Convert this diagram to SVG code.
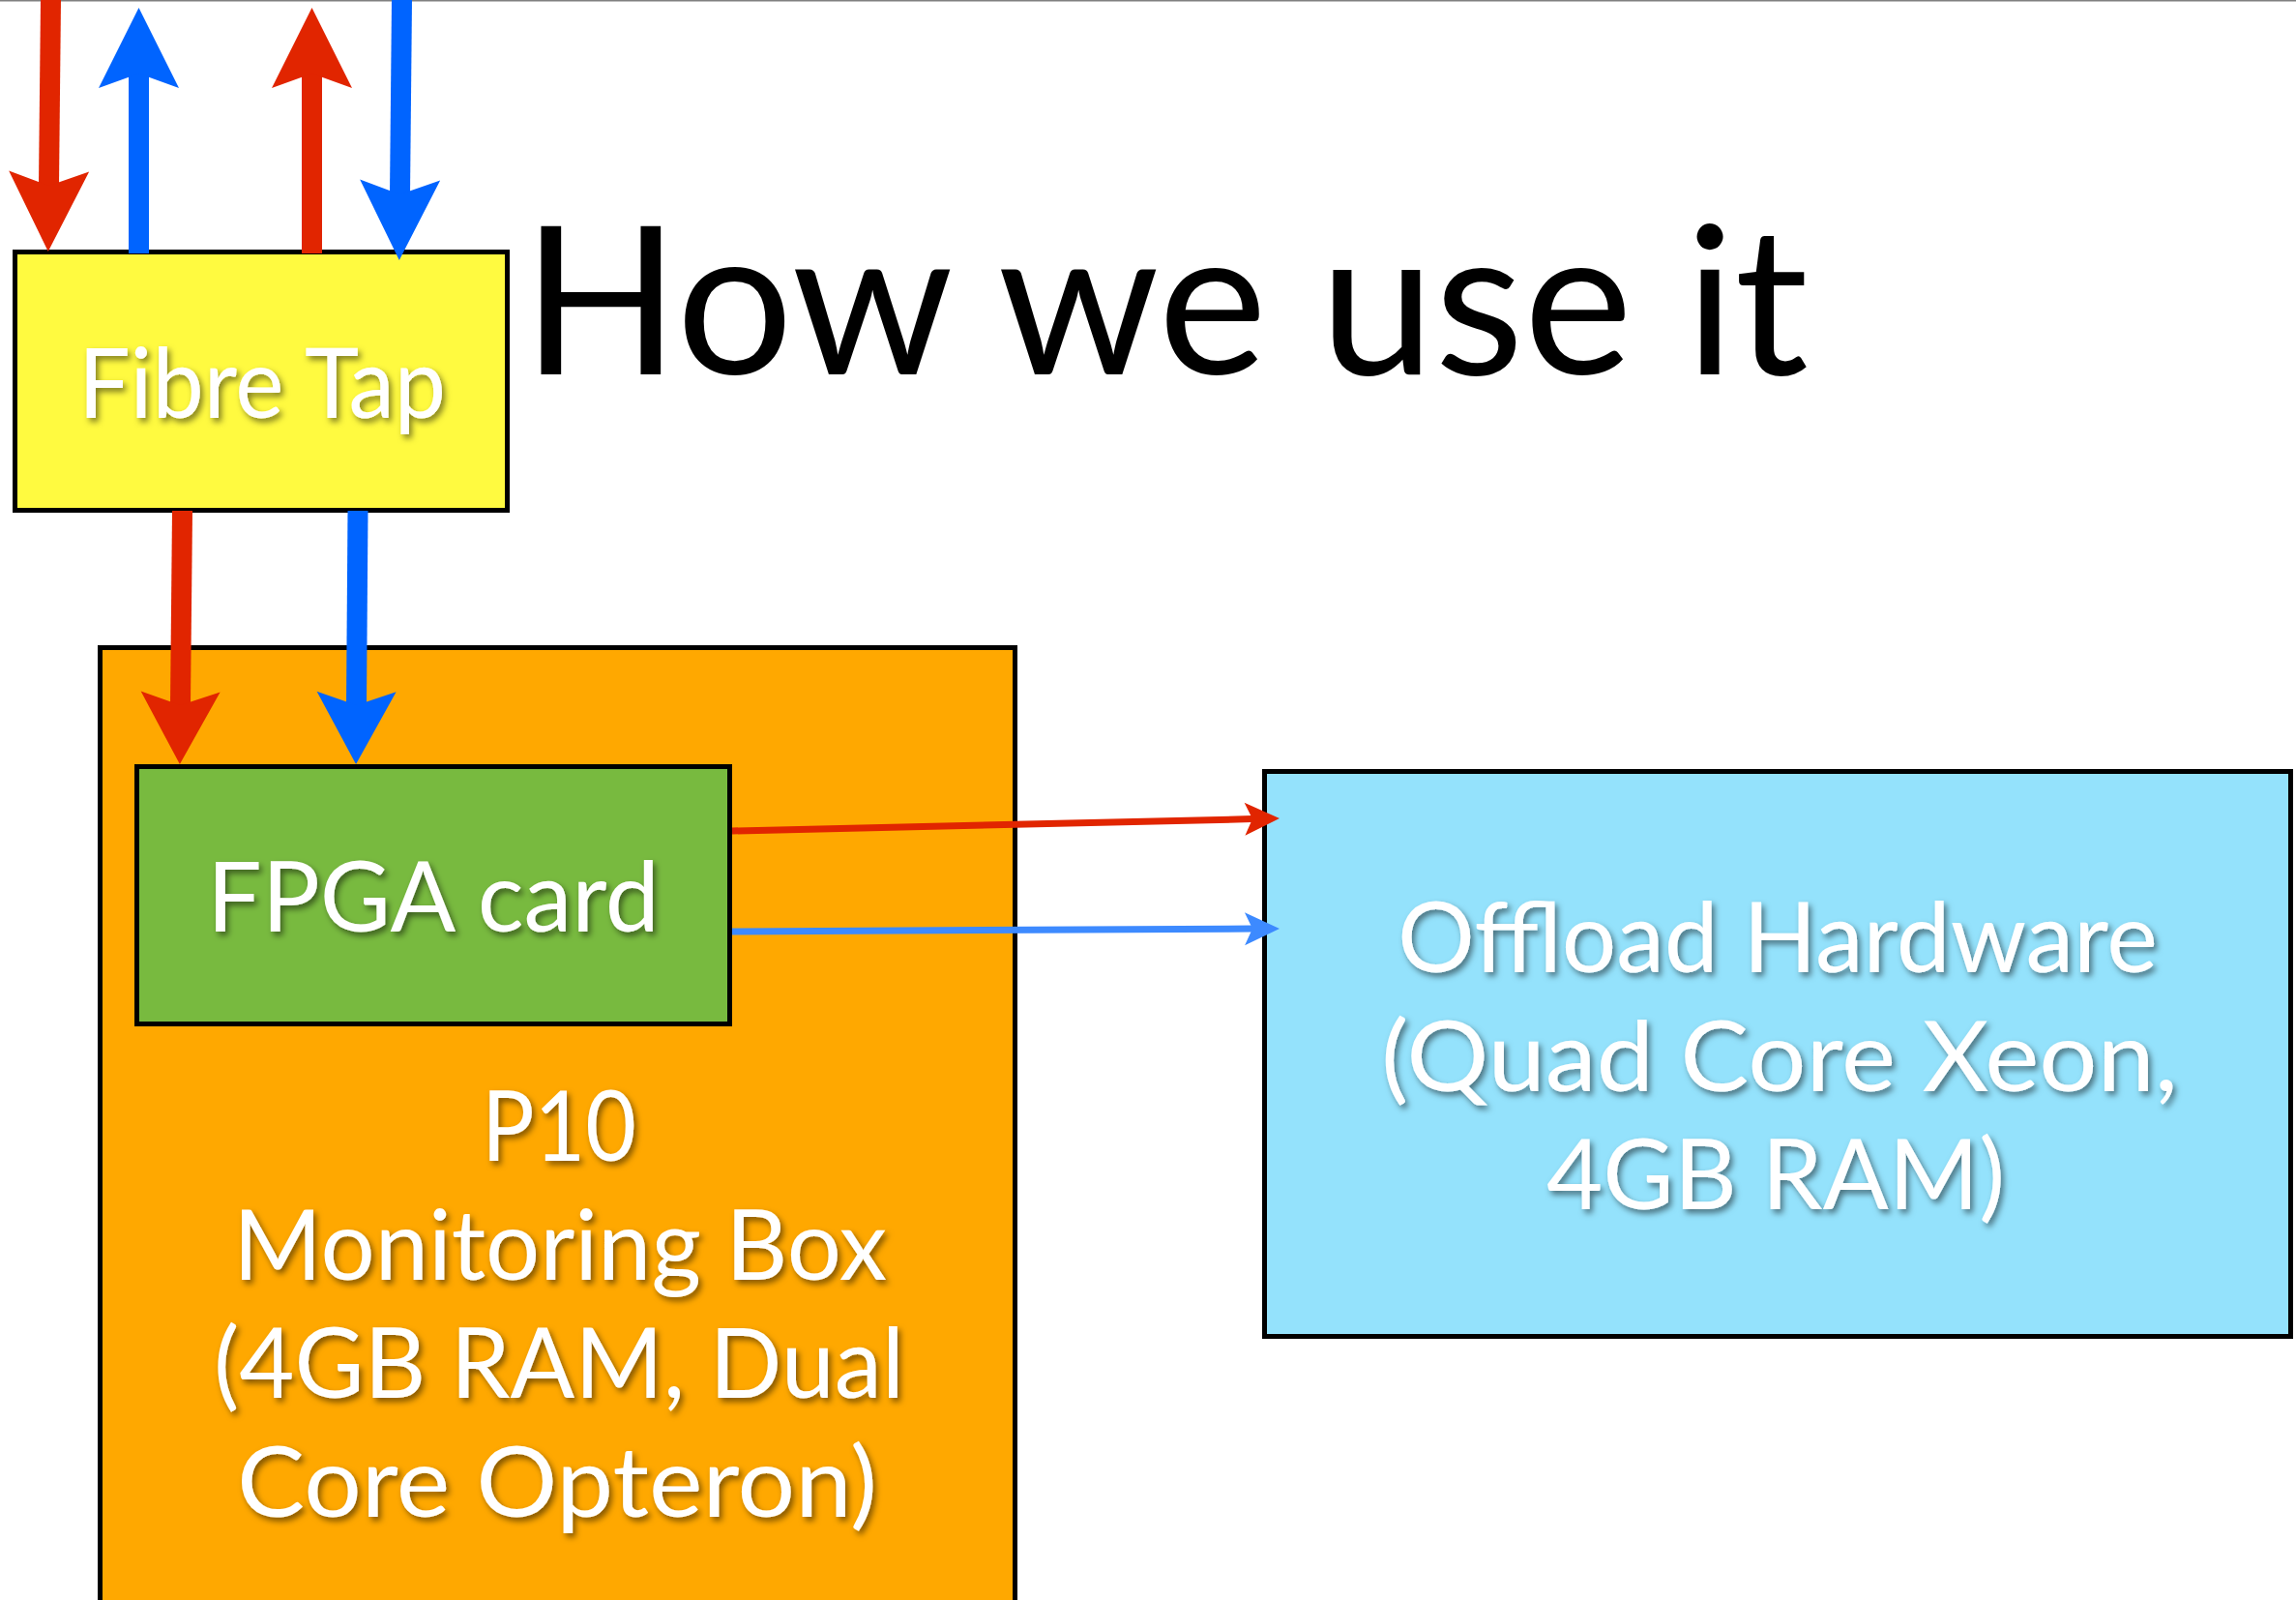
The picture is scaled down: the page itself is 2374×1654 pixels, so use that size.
<svg xmlns="http://www.w3.org/2000/svg" width="2374" height="1654" viewBox="0 0 2374 1654">
  <style>
    .box { stroke: #000; stroke-width: 5; }
    .label { font-family: Lato, "Open Sans", "Liberation Sans", sans-serif; font-size: 100px; fill: #fff; text-anchor: middle; filter: url(#shadow); }
    .title { font-family: Lato, "Open Sans", "Liberation Sans", sans-serif; font-size: 213px; fill: #000; }
    .red { stroke: #e12500; fill: none; }
    .blue { stroke: #0064ff; fill: none; }
    .lblue { stroke: #3d8aff; fill: none; }
    .thick { stroke-width: 21; }
    .thin { stroke-width: 7; }
  </style>
  <defs>
    <filter id="shadow" x="-10%" y="-20%" width="130%" height="150%">
      <feDropShadow dx="3" dy="4" stdDeviation="3" flood-color="#000" flood-opacity="0.5"/>
    </filter>
    <!-- large swallow-tail heads for the fibre links -->
    <marker id="headRedL" viewBox="-90 -45 95 90" markerWidth="95" markerHeight="90" refX="-68" refY="0" orient="auto" markerUnits="userSpaceOnUse" overflow="visible">
      <path d="M0,0 L-83,-41.5 L-68,0 L-83,41.5 Z" fill="#e12500"/>
    </marker>
    <marker id="headBlueL" viewBox="-90 -45 95 90" markerWidth="95" markerHeight="90" refX="-68" refY="0" orient="auto" markerUnits="userSpaceOnUse" overflow="visible">
      <path d="M0,0 L-83,-41.5 L-68,0 L-83,41.5 Z" fill="#0064ff"/>
    </marker>
    <marker id="headRedM" viewBox="-90 -45 95 90" markerWidth="95" markerHeight="90" refX="-61" refY="0" orient="auto" markerUnits="userSpaceOnUse" overflow="visible">
      <path d="M0,0 L-75,-41 L-61,0 L-75,41 Z" fill="#e12500"/>
    </marker>
    <marker id="headBlueM" viewBox="-90 -45 95 90" markerWidth="95" markerHeight="90" refX="-61" refY="0" orient="auto" markerUnits="userSpaceOnUse" overflow="visible">
      <path d="M0,0 L-75,-41 L-61,0 L-75,41 Z" fill="#0064ff"/>
    </marker>
    <!-- small heads for the offload links -->
    <marker id="headRedS" viewBox="-40 -20 45 40" markerWidth="45" markerHeight="40" refX="-28" refY="0" orient="auto" markerUnits="userSpaceOnUse" overflow="visible">
      <path d="M0,0 L-36,-17 L-28,0 L-36,17 Z" fill="#e12500"/>
    </marker>
    <marker id="headBlueS" viewBox="-40 -20 45 40" markerWidth="45" markerHeight="40" refX="-28" refY="0" orient="auto" markerUnits="userSpaceOnUse" overflow="visible">
      <path d="M0,0 L-36,-17 L-28,0 L-36,17 Z" fill="#3d8aff"/>
    </marker>
  </defs>

  <rect x="0" y="0" width="2374" height="1654" fill="#fff"/>
  <rect x="0" y="0" width="2374" height="1.5" fill="#808080"/>

  <text class="title" x="540" y="387">How we use it</text>

  <g id="monitoring-box">
    <rect class="box" x="103.5" y="669.5" width="946" height="1000" fill="#ffa800"/>
    <text class="label" x="578" y="1200" textLength="160" lengthAdjust="spacingAndGlyphs">P10</text>
    <text class="label" x="579" y="1323" textLength="676" lengthAdjust="spacingAndGlyphs">Monitoring Box</text>
    <text class="label" x="578" y="1445" textLength="714" lengthAdjust="spacingAndGlyphs">(4GB RAM, Dual</text>
    <text class="label" x="576" y="1568" textLength="662" lengthAdjust="spacingAndGlyphs">Core Opteron)</text>
  </g>

  <g id="fibre-tap">
    <rect class="box" x="15.5" y="260.5" width="509" height="267" fill="#fffa40"/>
    <text class="label" x="271" y="432" textLength="380" lengthAdjust="spacingAndGlyphs">Fibre Tap</text>
  </g>

  <g id="fpga-card">
    <rect class="box" x="141.5" y="792.5" width="613" height="266" fill="#78ba3f"/>
    <text class="label" x="448" y="963" textLength="468" lengthAdjust="spacingAndGlyphs">FPGA card</text>
  </g>

  <g id="offload-hardware">
    <rect class="box" x="1307.5" y="797.5" width="1061" height="584" fill="#94e2fc"/>
    <text class="label" x="1838" y="1005" textLength="786" lengthAdjust="spacingAndGlyphs">Offload Hardware</text>
    <text class="label" x="1840" y="1128" textLength="824" lengthAdjust="spacingAndGlyphs">(Quad Core Xeon,</text>
    <text class="label" x="1836" y="1250" textLength="474" lengthAdjust="spacingAndGlyphs">4GB RAM)</text>
  </g>

  <g id="connectors">
    <!-- network side of the tap -->
    <path class="red thick" d="M52.5,0 L50.5,192" marker-end="url(#headRedL)"/>
    <path class="blue thick" d="M143.5,262 L143.5,76" marker-end="url(#headBlueL)"/>
    <path class="red thick" d="M322.5,262 L322.5,76" marker-end="url(#headRedL)"/>
    <path class="blue thick" d="M415.5,0 L413.5,201" marker-end="url(#headBlueL)"/>
    <!-- tap to FPGA card -->
    <path class="red thick" d="M188.5,528 L186.5,729" marker-end="url(#headRedM)"/>
    <path class="blue thick" d="M370,528 L368.5,729" marker-end="url(#headBlueM)"/>
    <!-- FPGA card to offload hardware -->
    <path class="red thin" d="M757,859 L1295,846.6" marker-end="url(#headRedS)"/>
    <path class="lblue thin" d="M757,963 L1295,960.1" marker-end="url(#headBlueS)"/>
  </g>
</svg>
